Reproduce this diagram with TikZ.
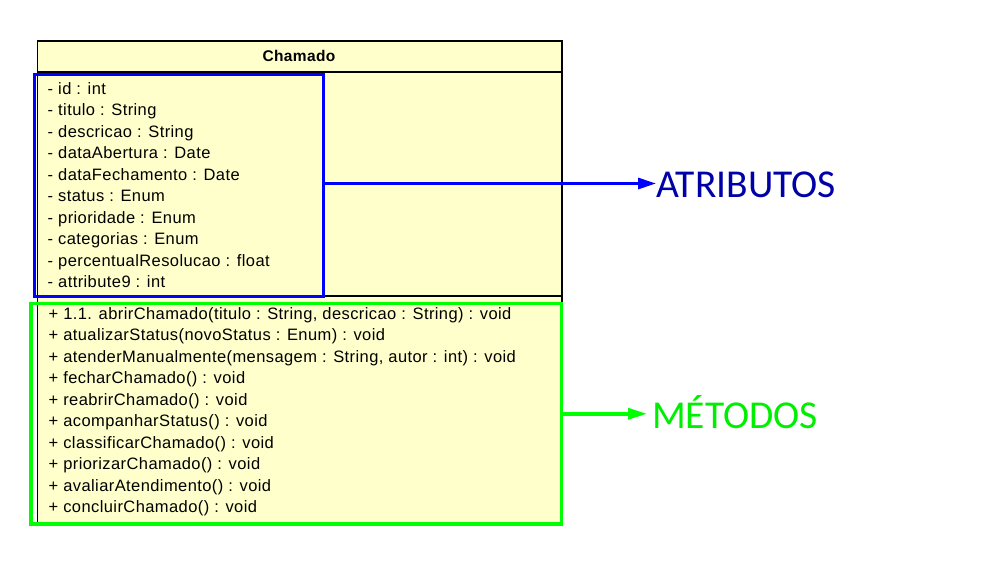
\documentclass[tikz,border=0pt]{standalone}
\usepackage{fontspec}
\newfontfamily\umlfont{Liberation Sans}[LetterSpace=2.5]
\newfontfamily\lblfont{Carlito}
\usetikzlibrary{arrows.meta}
\definecolor{umlfill}{HTML}{FFFFCC}
\definecolor{attrblue}{HTML}{0000FF}
\definecolor{methgreen}{HTML}{00FF00}
\definecolor{lblblue}{HTML}{0000A8}
\definecolor{lblgreen}{HTML}{00EE00}
\begin{document}
\begin{tikzpicture}[x=1pt,y=-1pt,
  member/.style={anchor=base west, inner sep=0pt, font=\umlfont\fontsize{16.5}{18}\selectfont},
  header/.style={anchor=base, inner sep=0pt, font=\umlfont\bfseries\fontsize{15.5}{17}\selectfont},
  lbl/.style={anchor=base west, inner sep=0pt, font=\lblfont\fontsize{39.5}{42}\selectfont},
  frame/.style={anchor=north west, inner sep=0pt, outer sep=0pt}]
\useasboundingbox[fill=white] (0,0) rectangle (1004,581);
% class box
\node[frame, draw=black, line width=1.5pt, fill=umlfill, minimum width=524.5pt, minimum height=482.5pt] (cls) at (37.5,41) {};
\draw[line width=1.2pt] (cls.west |- 0,72) -- (cls.east |- 0,72);
\draw[line width=1.2pt] (cls.west |- 0,296) -- (cls.east |- 0,296);
\node[header] (title) at (299,61.5) {Chamado};
% attributes
\node[member] (a0) at (47.5,94.0) {- id : int};
\node[member] (a1) at (47.5,115.5) {- titulo : String};
\node[member] (a2) at (47.5,137.0) {- descricao : String};
\node[member] (a3) at (47.5,158.5) {- dataAbertura : Date};
\node[member] (a4) at (47.5,180.0) {- dataFechamento : Date};
\node[member] (a5) at (47.5,201.5) {- status : Enum};
\node[member] (a6) at (47.5,223.0) {- prioridade : Enum};
\node[member] (a7) at (47.5,244.5) {- categorias : Enum};
\node[member] (a8) at (47.5,266.0) {- percentualResolucao : float};
\node[member] (a9) at (47.5,287.5) {- attribute9 : int};
% methods
\node[member] (m0) at (48.5,319.0) {+ 1.1. abrirChamado(titulo : String, descricao : String) : void};
\node[member] (m1) at (48.5,340.5) {+ atualizarStatus(novoStatus : Enum) : void};
\node[member] (m2) at (48.5,362.0) {+ atenderManualmente(mensagem : String, autor : int) : void};
\node[member] (m3) at (48.5,383.5) {+ fecharChamado() : void};
\node[member] (m4) at (48.5,405.0) {+ reabrirChamado() : void};
\node[member] (m5) at (48.5,426.5) {+ acompanharStatus() : void};
\node[member] (m6) at (48.5,448.0) {+ classificarChamado() : void};
\node[member] (m7) at (48.5,469.5) {+ priorizarChamado() : void};
\node[member] (m8) at (48.5,491.0) {+ avaliarAtendimento() : void};
\node[member] (m9) at (48.5,512.5) {+ concluirChamado() : void};
% highlight frames
\node[frame, draw=attrblue, line width=3pt, minimum width=289.5pt, minimum height=222pt] (attrbox) at (34,74.5) {};
\node[frame, draw=methgreen, line width=3.5pt, minimum width=530.5pt, minimum height=220.5pt] (methbox) at (31,303.5) {};
% labels
\node[lbl, text=lblblue] (atrib) at (656,197.5) {ATRIBUTOS};
\node[lbl, text=lblgreen] (metod) at (652,428) {MÉTODOS};
% arrows
\draw[attrblue, line width=3pt, -{Triangle[length=18pt,width=11pt]}] ([yshift=2pt]attrbox.east) -- ([yshift=2pt]attrbox.east -| atrib.west);
\draw[methgreen, line width=3.5pt, -{Triangle[length=19pt,width=11pt]}, shorten >=5pt] (methbox.east) -- (methbox.east -| metod.west);
\end{tikzpicture}
\end{document}
